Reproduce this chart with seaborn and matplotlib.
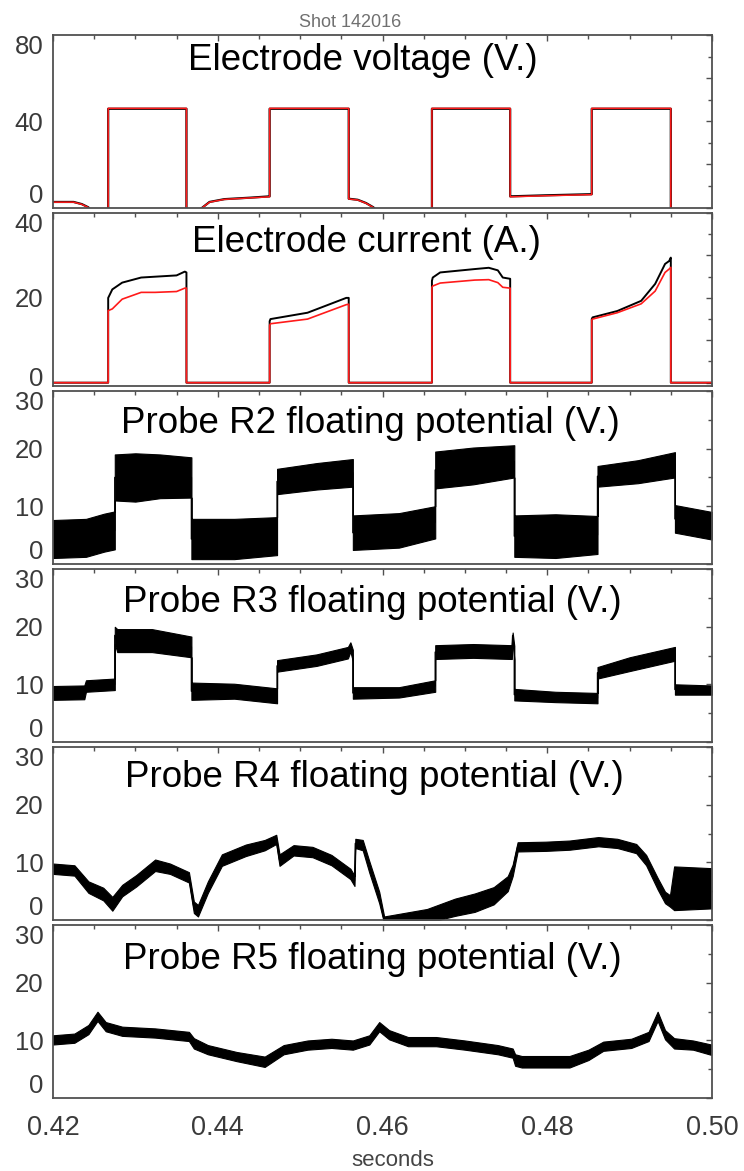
import numpy as np
import matplotlib
matplotlib.use("Agg")
import matplotlib.pyplot as plt
from matplotlib.ticker import MultipleLocator, FixedLocator
from matplotlib.transforms import ScaledTranslation
import seaborn as sns

# ---------------- data ----------------
shot_title = "Shot 142016"
panel_titles = ["Electrode voltage (V.)", "Electrode current (A.)",
                "Probe R2 floating potential (V.)", "Probe R3 floating potential (V.)",
                "Probe R4 floating potential (V.)", "Probe R5 floating potential (V.)"]
x_ticks = [0.42, 0.44, 0.46, 0.48, 0.50]
x_tick_labels = ["0.42", "0.44", "0.46", "0.48", "0.50"]

# Electrode voltage (black and red traces nearly identical)
t_volt = [0.4200, 0.4225, 0.4235, 0.4243, 0.4250, 0.4267, 0.4267, 0.4362, 0.4362, 0.4378,
          0.4390, 0.4408, 0.4440, 0.4463, 0.4463, 0.4559, 0.4559, 0.4570, 0.4580, 0.4589,
          0.4600, 0.4660, 0.4660, 0.4755, 0.4755, 0.4800, 0.4854, 0.4854, 0.4950, 0.4950, 0.5000]
volt_red = [2.5, 2.5, 1.5, 0.0, -5, -5, 46, 46, -5, -1,
            2.5, 3.8, 4.5, 5.0, 46, 46, 4.0, 3.5, 2.0, 0.0,
            -5, -5, 46, 46, 5.0, 5.5, 6.0, 46, 46, -5, -5]
volt_black = [2.6, 2.6, 1.6, 0.1, -5, -5, 45.8, 45.8, -5, -1,
              2.6, 3.9, 4.6, 5.2, 45.8, 45.8, 4.1, 3.6, 2.1, 0.1,
              -5, -5, 45.8, 45.8, 5.2, 5.7, 6.2, 45.8, 45.8, -5, -5]

# Electrode current
t_cur = [0.4200, 0.4267, 0.4267, 0.4272, 0.4284, 0.4307, 0.4324, 0.4350, 0.4360, 0.4362,
         0.4362, 0.4463, 0.4463, 0.4464, 0.4509, 0.4556, 0.4559, 0.4559, 0.4660, 0.4660,
         0.4661, 0.4670, 0.4712, 0.4729, 0.4740, 0.4746, 0.4755, 0.4755, 0.4854, 0.4854,
         0.4855, 0.4885, 0.4914, 0.4931, 0.4943, 0.4948, 0.4950, 0.4950, 0.5000]
cur_black = [0, 0, 20, 22, 23.6, 24.8, 25.0, 25.3, 26.2, 26.0,
             0, 0, 14.5, 15, 16.5, 20, 20, 0, 0, 24,
             24.8, 26, 26.8, 27.1, 26.5, 24.8, 24.5, 0, 0, 15,
             15.4, 16.9, 19.3, 23.3, 28, 28.7, 29.5, 0, 0]
cur_red = [0, 0, 17, 17.4, 19.7, 21.3, 21.3, 21.5, 22.3, 22.3,
           0, 0, 13.5, 13.9, 15, 18.4, 18.5, 0, 0, 22.5,
           22.8, 23.5, 24.2, 24.3, 23.6, 22.5, 22.3, 0, 0, 14.8,
           15, 16.5, 18.6, 21.6, 26, 26.8, 27.2, 0, 0]

# Probe R2: centre of the noisy trace and half-width of its noise band
t_r2 = [0.4200, 0.4240, 0.4262, 0.4275, 0.4275, 0.4300, 0.4330, 0.4368, 0.4368, 0.4420,
        0.4472, 0.4472, 0.4520, 0.4564, 0.4564, 0.4620, 0.4664, 0.4664, 0.4710, 0.4760,
        0.4760, 0.4810, 0.4861, 0.4861, 0.4910, 0.4955, 0.4955, 0.5000]
r2_mid = [4.3, 4.5, 5.4, 5.8, 15.0, 15.0, 15.2, 15.0, 4.3, 4.3,
          4.8, 14.3, 15.2, 15.8, 5.4, 5.8, 7.2, 16.3, 17.0, 17.8,
          4.8, 4.8, 5.0, 15.2, 16.0, 17.2, 7.8, 6.6]
r2_half = [3.3, 3.3, 3.3, 3.3, 4.0, 4.2, 3.8, 3.5, 3.5, 3.5,
           3.3, 2.2, 2.3, 2.4, 3.0, 3.0, 2.8, 3.2, 3.2, 2.8,
           3.6, 3.8, 3.3, 1.8, 2.0, 2.2, 2.4, 2.4]

# Probe R3
t_r3 = [0.4200, 0.4238, 0.4240, 0.4275, 0.4275, 0.4278, 0.4320, 0.4368, 0.4368, 0.4420,
        0.4472, 0.4472, 0.4520, 0.4558, 0.4561, 0.4564, 0.4564, 0.4620, 0.4664, 0.4664,
        0.4710, 0.4757, 0.4758, 0.4760, 0.4760, 0.4810, 0.4861, 0.4861, 0.4900, 0.4955,
        0.4955, 0.5000]
r3_mid = [8.5, 8.6, 9.7, 10.0, 18.5, 17.6, 17.6, 16.5, 8.8, 8.8,
          8.0, 13.2, 14.2, 15.5, 16.5, 15.0, 8.5, 8.6, 9.7, 15.6,
          15.8, 15.6, 18.5, 15.5, 8.2, 7.8, 7.6, 12.0, 13.5, 15.3,
          9.1, 9.0]
r3_half = [1.2, 1.2, 1.0, 1.0, 1.5, 2.0, 2.0, 1.8, 1.5, 1.3,
           1.3, 1.0, 1.0, 1.0, 0.8, 1.0, 1.0, 0.9, 1.0, 1.2,
           1.2, 1.2, 0.5, 1.2, 1.0, 0.9, 0.9, 1.0, 1.2, 1.2,
           0.9, 0.8]

# Probe R4
t_r4 = [0.4200, 0.4226, 0.4243, 0.4261, 0.4272, 0.4284, 0.4301, 0.4324, 0.4342, 0.4365,
        0.4371, 0.4376, 0.4388, 0.4405, 0.4434, 0.4457, 0.4471, 0.4475, 0.4492, 0.4515,
        0.4538, 0.4561, 0.4566, 0.4567, 0.4576, 0.4584, 0.4596, 0.4602, 0.4654, 0.4688,
        0.4712, 0.4735, 0.4752, 0.4758, 0.4764, 0.4798, 0.4827, 0.4862, 0.4885, 0.4908,
        0.4920, 0.4934, 0.4943, 0.4949, 0.4954, 0.4999]
r4_mid = [8.9, 8.6, 5.7, 4.5, 2.8, 5.1, 6.8, 9.5, 8.9, 7.4,
          2.2, 1.6, 5.7, 10.4, 12.1, 13.0, 14.0, 10.4, 12.1, 11.8,
          10.4, 8.0, 6.8, 13.3, 13.0, 9.2, 3.9, 0.0, 0.7, 2.2,
          3.0, 4.2, 6.3, 8.6, 12.7, 12.8, 13.0, 13.6, 13.3, 12.4,
          10.4, 6.3, 3.9, 3.3, 5.5, 5.5]
r4_half = [0.9, 0.9, 1.0, 1.1, 1.2, 1.0, 1.0, 1.0, 0.9, 0.9,
           1.0, 1.0, 1.0, 1.0, 1.0, 0.9, 0.8, 1.0, 0.9, 0.9,
           0.9, 0.9, 0.9, 0.8, 0.9, 1.0, 1.0, 0.6, 1.2, 1.5,
           1.6, 1.5, 1.3, 1.0, 0.8, 0.8, 0.8, 0.8, 0.8, 0.8,
           0.9, 1.0, 1.0, 1.0, 3.8, 3.5]

# Probe R5
t_r5 = [0.4200, 0.4226, 0.4243, 0.4254, 0.4264, 0.4284, 0.4324, 0.4365, 0.4371, 0.4388,
        0.4423, 0.4457, 0.4480, 0.4509, 0.4538, 0.4564, 0.4584, 0.4596, 0.4608, 0.4631,
        0.4665, 0.4700, 0.4740, 0.4758, 0.4761, 0.4769, 0.4827, 0.4850, 0.4868, 0.4902,
        0.4923, 0.4934, 0.4943, 0.4954, 0.4977, 0.4999]
r5_mid = [10.1, 10.4, 11.9, 14.2, 12.4, 11.6, 11.3, 10.7, 9.5, 8.4,
          7.2, 6.3, 8.4, 9.2, 9.5, 9.2, 10.1, 12.4, 11.0, 9.8,
          9.8, 9.2, 8.4, 7.8, 6.6, 6.3, 6.3, 7.5, 9.0, 9.5,
          10.7, 14.2, 11.0, 9.5, 9.2, 8.4]
r5_half = [0.8, 0.8, 0.8, 0.8, 0.8, 0.8, 0.8, 0.8, 0.9, 0.8,
           0.8, 0.9, 0.8, 0.8, 0.8, 0.8, 0.8, 0.8, 0.8, 0.8,
           0.8, 0.8, 0.8, 0.8, 1.0, 1.0, 1.0, 0.9, 0.8, 0.8,
           0.8, 0.8, 0.8, 0.9, 0.8, 0.9]

# ---------------- figure ----------------
sns.set_theme(style="white")
plt.rcParams["font.family"] = ["Liberation Sans", "DejaVu Sans"]

W, H = 744, 1171
fig, axes = plt.subplots(6, 1, figsize=(W / 100, H / 100), dpi=100, sharex=True)
fig.subplots_adjust(left=53 / W, right=712 / W, top=1 - 35 / H, bottom=1 - 1098 / H, hspace=0.032)

frame_col = "#505050"
tick_col = "#3a3a3a"

ylims = [(0, 80), (-0.7, 40), (0, 30), (0, 30), (0, 30), (0, 30)]
ymajor = [[0, 20, 40, 60, 80], [0, 10, 20, 30, 40], [0, 10, 20, 30], [0, 10, 20, 30],
          [0, 10, 20, 30], [0, 10, 20, 30]]
ylabels = [["0", "", "40", "", "80"], ["0", "", "20", "", "40"], ["0", "10", "20", "30"],
           ["0", "10", "20", "30"], ["0", "10", "20", "30"], ["0", "10", "20", "30"]]
yminor = [10, 5, 5, 5, 5, 5]
title_pos = [(0.470, 0.797), (0.476, 0.775), (0.481, 0.757), (0.484, 0.751), (0.487, 0.769), (0.484, 0.746)]

# panel 1: voltage
ax = axes[0]
sns.lineplot(x=t_volt, y=volt_black, ax=ax, color="black", lw=1.6, estimator=None, sort=False)
sns.lineplot(x=t_volt, y=volt_red, ax=ax, color="#ff1a1a", lw=1.1, estimator=None, sort=False)

# panel 2: current
ax = axes[1]
sns.lineplot(x=t_cur, y=cur_black, ax=ax, color="black", lw=1.4, estimator=None, sort=False)
sns.lineplot(x=t_cur, y=cur_red, ax=ax, color="#ff1a1a", lw=1.2, estimator=None, sort=False)

# probe panels: noise band + centre line
for ax, t, mid, half in zip(axes[2:], [t_r2, t_r3, t_r4, t_r5], [r2_mid, r3_mid, r4_mid, r5_mid],
                            [r2_half, r3_half, r4_half, r5_half]):
    t = np.asarray(t); mid = np.asarray(mid); half = np.asarray(half)
    ax.fill_between(t, mid - half, mid + half, color="black", lw=0.8, edgecolor="black")
    sns.lineplot(x=t, y=mid, ax=ax, color="black", lw=1.0, estimator=None, sort=False)

for i, ax in enumerate(axes):
    ax.set_xlim(0.42, 0.50)
    ax.set_ylim(*ylims[i])
    ax.yaxis.set_major_locator(FixedLocator(ymajor[i]))
    ax.yaxis.set_minor_locator(MultipleLocator(yminor[i]))
    ax.set_yticklabels(ylabels[i])
    ax.xaxis.set_major_locator(FixedLocator(x_ticks))
    ax.xaxis.set_minor_locator(MultipleLocator(0.005))
    ax.tick_params(which="both", direction="in", top=True, right=True, color=frame_col, width=1.0)
    ax.tick_params(which="major", length=4.5)
    ax.tick_params(which="minor", length=3.2)
    ax.tick_params(axis="y", which="major", labelsize=18.5, labelcolor=tick_col, pad=7)
    for s in ax.spines.values():
        s.set_color(frame_col)
        s.set_linewidth(1.3)
    ax.set_ylabel("")
    ax.set_xlabel("")
    labs = ax.get_yticklabels()
    labs[-1].set_va("top")
    if i != 1:
        labs[0].set_va("bottom")
    else:
        labs[0].set_transform(labs[0].get_transform() + ScaledTranslation(0, 6 / 100, fig.dpi_scale_trans))
    ax.text(title_pos[i][0], title_pos[i][1], panel_titles[i], transform=ax.transAxes,
            ha="center", va="baseline", fontsize=26.5, color="black")

for ax in axes[:-1]:
    ax.tick_params(axis="x", labelbottom=False)
axes[-1].set_xticklabels(x_tick_labels)
axes[-1].tick_params(axis="x", which="major", labelsize=19.5, labelcolor=tick_col, pad=12)

fig.text(393 / W, 1 - 1160 / H, "seconds", ha="center", va="center", fontsize=16, color="#444444")
fig.text(350 / W, 1 - 27 / H, shot_title, ha="center", va="baseline", fontsize=13, color="#707070")

fig.savefig("out.png", dpi=100)
